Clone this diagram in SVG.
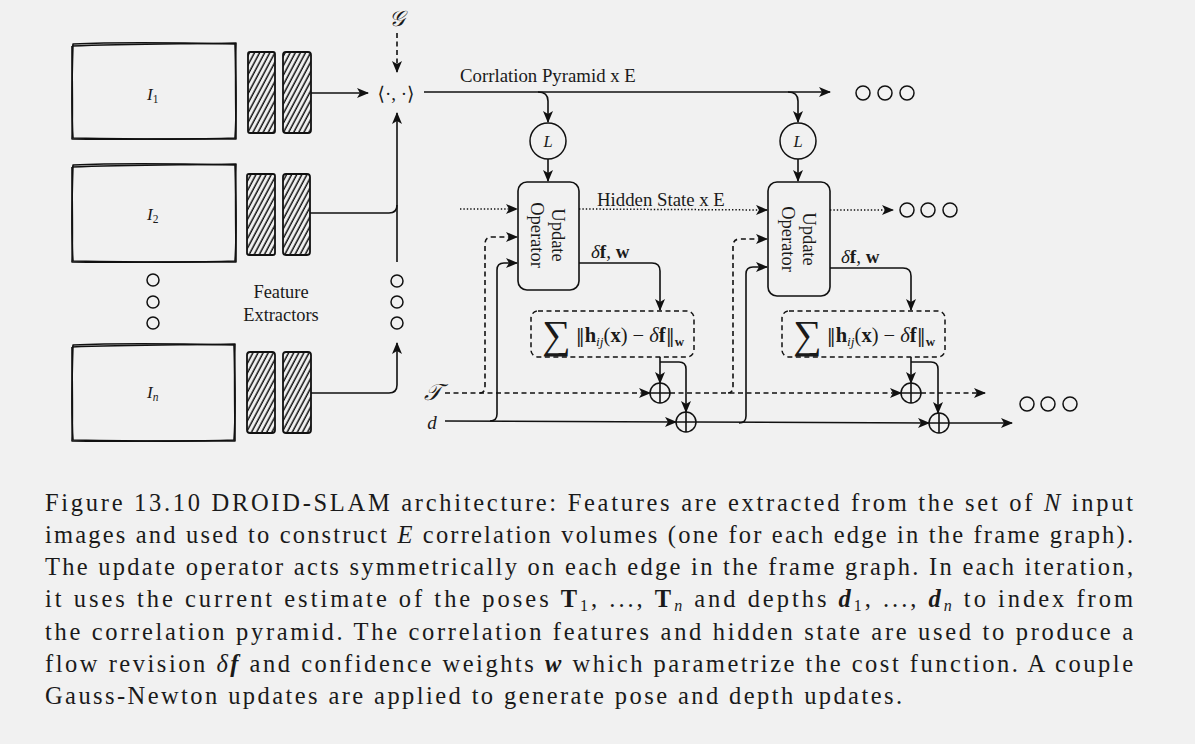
<svg xmlns="http://www.w3.org/2000/svg" width="1195" height="744" viewBox="0 0 1195 744">
<style>
  text { font-family: "Liberation Serif", "DejaVu Serif", serif; fill: #1a1a1a; }
  .ln { fill: none; stroke: #111; stroke-width: 1.6; }
  .dash { stroke-dasharray: 5 3.5; }
  .dot { stroke-dasharray: 1.4 2; stroke-width: 1.5; }
  .sk { fill: none; stroke: #111; stroke-width: 1.6; stroke-linejoin: round; }
  .bar { fill: url(#hatch); stroke: #111; stroke-width: 1.8; }
  .ring { fill: none; stroke: #111; stroke-width: 1.5; }
  .box { fill: #f1f1f1; stroke: #111; stroke-width: 1.6; }
  .dbox { fill: #f1f1f1; stroke: #111; stroke-width: 1.5; stroke-dasharray: 5 3.5; }
  .lbl { font-size: 18.8px; }
  .cap { font-size: 24.5px; }
  .it { font-style: italic; }
  .bf { font-weight: bold; }
  .nm { font-family: "DejaVu Serif", "DejaVu Sans", serif; font-weight: normal; }
</style>
<defs>
  <pattern id="hatch" width="4.5" height="4.5" patternUnits="userSpaceOnUse" patternTransform="rotate(28)">
    <line x1="2" y1="0" x2="2" y2="4.5" stroke="#111" stroke-width="1.5"/>
  </pattern>
  <marker id="ah" viewBox="0 0 12 10" refX="11" refY="5" markerWidth="12" markerHeight="10" markerUnits="userSpaceOnUse" orient="auto">
    <path d="M0,0 L12,5 L0,10 L3,5 Z" fill="#111" stroke="none"/>
  </marker>
</defs>
<rect x="0" y="0" width="1195" height="744" fill="#f1f1f1"/>

<!-- image frames -->
<g id="img1">
  <path class="sk" d="M73,44 C120,42 190,43 235,44 C236,75 237,110 235,138 C190,140 120,139 73,138 C71,110 72,75 73,44 Z"/>
  <path class="sk" stroke-width="1" d="M72,46 C125,44 185,44 236,43 C235,80 236,112 236,139 C185,138 125,140 72,139 C73,112 72,80 72,46"/>
  <text x="147" y="100" class="it" font-size="17">I<tspan font-size="11.5" dy="3" font-style="normal">1</tspan></text>
</g>
<g id="img2">
  <path class="sk" d="M73,165 C120,163 190,164 235,165 C236,195 237,232 235,261 C190,263 120,262 73,261 C71,232 72,195 73,165 Z"/>
  <path class="sk" stroke-width="1" d="M72,167 C125,165 185,165 236,164 C235,200 236,235 236,262 C185,261 125,263 72,262 C73,235 72,200 72,167"/>
  <text x="147" y="220" class="it" font-size="17">I<tspan font-size="11.5" dy="3" font-style="normal">2</tspan></text>
</g>
<g id="imgn">
  <path class="sk" d="M73,345 C120,343 190,344 234,345 C235,375 236,412 234,440 C190,442 120,441 73,440 C71,412 72,375 73,345 Z"/>
  <path class="sk" stroke-width="1" d="M72,347 C125,345 185,345 235,344 C234,380 235,415 235,441 C185,440 125,442 72,441 C73,415 72,380 72,347"/>
  <text x="147" y="398" class="it" font-size="17">I<tspan font-size="11.5" dy="3">n</tspan></text>
</g>
<g id="img-dots">
  <circle class="ring" cx="153" cy="280" r="6"/>
  <circle class="ring" cx="153" cy="302" r="6"/>
  <circle class="ring" cx="153" cy="323" r="6"/>
</g>

<!-- feature extractors -->
<g id="fe1">
  <rect class="bar" x="248" y="52" width="27" height="81" rx="2"/>
  <rect class="bar" x="283" y="52" width="28" height="81" rx="3"/>
</g>
<g id="fe2">
  <rect class="bar" x="247" y="174" width="28" height="81" rx="2"/>
  <rect class="bar" x="283" y="174" width="27" height="81" rx="3"/>
</g>
<g id="fen">
  <rect class="bar" x="247" y="352" width="28" height="81" rx="3"/>
  <rect class="bar" x="283" y="352" width="28" height="81" rx="3"/>
</g>
<g id="fe-label">
  <text x="281" y="298" text-anchor="middle" font-size="18.4">Feature</text>
  <text x="281" y="321" text-anchor="middle" font-size="18.4">Extractors</text>
</g>

<!-- correlation -->
<g id="graph-G">
  <text x="397" y="26" text-anchor="middle" class="it" font-size="22">𝒢</text>
</g>
<g id="corr">
  <text x="396" y="100" text-anchor="middle" font-size="19"><tspan font-family="DejaVu Serif">⟨</tspan>·, ·<tspan font-family="DejaVu Serif">⟩</tspan></text>
</g>
<g id="feat-dots">
  <circle class="ring" cx="397" cy="281" r="6"/>
  <circle class="ring" cx="397" cy="302" r="6"/>
  <circle class="ring" cx="397" cy="323" r="6"/>
</g>

<!-- lookups -->
<g id="L1">
  <circle class="ring" cx="548" cy="141" r="18"/>
  <text x="548" y="147" text-anchor="middle" class="it" font-size="16.5">L</text>
</g>
<g id="L2">
  <circle class="ring" cx="798" cy="141" r="18"/>
  <text x="798" y="147" text-anchor="middle" class="it" font-size="16.5">L</text>
</g>

<!-- update operators -->
<g id="upd1">
  <rect class="box" x="518" y="182" width="61" height="108" rx="9"/>
  <g transform="translate(548,235) rotate(90)">
    <text x="0" y="-4" text-anchor="middle" font-size="18.5">Update</text>
    <text x="0" y="17" text-anchor="middle" font-size="18.5">Operator</text>
  </g>
</g>
<g id="upd2">
  <rect class="box" x="768" y="182" width="62" height="114" rx="9"/>
  <g transform="translate(799,239) rotate(90)">
    <text x="0" y="-4" text-anchor="middle" font-size="18.5">Update</text>
    <text x="0" y="17" text-anchor="middle" font-size="18.5">Operator</text>
  </g>
</g>

<!-- cost boxes -->
<g id="cost1">
  <rect class="dbox" x="531" y="311" width="163" height="46" rx="7"/>
  <text x="613" y="342" text-anchor="middle" font-size="20.5"><tspan font-size="40" dy="6">∑</tspan><tspan dy="-6"> </tspan><tspan class="nm" font-size="18">‖</tspan><tspan class="bf">h</tspan><tspan class="it" font-size="13.5" dy="4">ij</tspan><tspan dy="-4">(</tspan><tspan class="bf">x</tspan>) − <tspan class="it">δ</tspan><tspan class="bf">f</tspan><tspan class="nm" font-size="18">‖</tspan><tspan class="bf" font-size="13" dy="4">w</tspan></text>
</g>
<g id="cost2">
  <rect class="dbox" x="782" y="311" width="163" height="46" rx="7"/>
  <text x="864" y="342" text-anchor="middle" font-size="20.5"><tspan font-size="40" dy="6">∑</tspan><tspan dy="-6"> </tspan><tspan class="nm" font-size="18">‖</tspan><tspan class="bf">h</tspan><tspan class="it" font-size="13.5" dy="4">ij</tspan><tspan dy="-4">(</tspan><tspan class="bf">x</tspan>) − <tspan class="it">δ</tspan><tspan class="bf">f</tspan><tspan class="nm" font-size="18">‖</tspan><tspan class="bf" font-size="13" dy="4">w</tspan></text>
</g>

<!-- plus nodes -->
<g id="plusT1"><circle class="ring" cx="660" cy="393" r="10"/><path class="ln" stroke-width="1.3" d="M650,393 H670 M660,383 V403"/></g>
<g id="plusD1"><circle class="ring" cx="686" cy="422" r="10"/><path class="ln" stroke-width="1.3" d="M676,422 H696 M686,412 V432"/></g>
<g id="plusT2"><circle class="ring" cx="911" cy="393" r="10"/><path class="ln" stroke-width="1.3" d="M901,393 H921 M911,383 V403"/></g>
<g id="plusD2"><circle class="ring" cx="939" cy="423" r="10"/><path class="ln" stroke-width="1.3" d="M929,423 H949 M939,413 V433"/></g>

<!-- inputs -->
<g id="in-T"><text x="433" y="400" text-anchor="middle" class="it" font-size="23">𝒯</text></g>
<g id="in-d"><text x="432" y="429" text-anchor="middle" class="it" font-size="19">d</text></g>

<!-- continuation dots -->
<g id="more-corr">
  <circle class="ring" cx="863" cy="93" r="7"/><circle class="ring" cx="885" cy="93" r="7"/><circle class="ring" cx="907" cy="93" r="7"/>
</g>
<g id="more-hidden">
  <circle class="ring" cx="907" cy="210" r="7"/><circle class="ring" cx="928" cy="210" r="7"/><circle class="ring" cx="950" cy="210" r="7"/>
</g>
<g id="more-out">
  <circle class="ring" cx="1027" cy="404" r="7"/><circle class="ring" cx="1048" cy="404" r="7"/><circle class="ring" cx="1070" cy="404" r="7"/>
</g>

<!-- connectors -->
<g id="connectors">
  <path class="ln" d="M311,93 L368,93" marker-end="url(#ah)"/>
  <path class="ln dash" d="M397,33 L397,72" marker-end="url(#ah)"/>
  <path class="ln" d="M397,262 L397,113" marker-end="url(#ah)"/>
  <path class="ln" d="M310,213 L389,213 Q397,213 397,205"/>
  <path class="ln" d="M311,393 L389,393 Q397,393 397,385 L397,343" marker-end="url(#ah)"/>

  <path class="ln" d="M424,92 L830,92" marker-end="url(#ah)"/>
  <path class="ln" d="M538,92 Q548,92 548,101 L548,122" marker-end="url(#ah)"/>
  <path class="ln" d="M548,159 L548,181" marker-end="url(#ah)"/>
  <path class="ln" d="M788,92 Q798,92 798,101 L798,122" marker-end="url(#ah)"/>
  <path class="ln" d="M798,159 L798,181" marker-end="url(#ah)"/>

  <path class="ln dot" d="M460,209 L517,209" marker-end="url(#ah)"/>
  <path class="ln dot" d="M579,209 L767,210" marker-end="url(#ah)"/>
  <path class="ln dot" d="M830,210 L893,210" marker-end="url(#ah)"/>

  <path class="ln dash" d="M480,393 Q485,393 485,386 L485,244 Q485,237 492,237 L517,237" marker-end="url(#ah)"/>
  <path class="ln" d="M490,421 Q497,421 497,414 L497,270 Q497,263 504,263 L517,263" marker-end="url(#ah)"/>
  <path class="ln dash" d="M728,393 Q733,393 733,386 L733,246 Q733,239 740,239 L767,239" marker-end="url(#ah)"/>
  <path class="ln" d="M739,423 Q746,423 746,416 L746,274 Q746,267 753,267 L767,267" marker-end="url(#ah)"/>

  <path class="ln" d="M579,263 L652,263 Q660,263 660,271 L660,310" marker-end="url(#ah)"/>
  <path class="ln" d="M830,268 L903,268 Q911,268 911,276 L911,310" marker-end="url(#ah)"/>

  <path class="ln" d="M660,357 L660,383" marker-end="url(#ah)"/>
  <path class="ln" d="M660,362 L679,362 Q686,362 686,369 L686,412" marker-end="url(#ah)"/>
  <path class="ln" d="M911,357 L911,383" marker-end="url(#ah)"/>
  <path class="ln" d="M911,362 L931,362 Q938,362 938,369 L938,413" marker-end="url(#ah)"/>

  <path class="ln dash" d="M445,393 L650,393" marker-end="url(#ah)"/>
  <path class="ln dash" d="M670,393 L901,393" marker-end="url(#ah)"/>
  <path class="ln dash" d="M921,393 L985,393" marker-end="url(#ah)"/>

  <path class="ln" d="M445,421 L676,422" marker-end="url(#ah)"/>
  <path class="ln" d="M696,422 L929,423" marker-end="url(#ah)"/>
  <path class="ln" d="M949,423 L1012,423" marker-end="url(#ah)"/>
</g>

<!-- connector labels -->
<g id="labels">
  <text x="460" y="82" class="lbl">Corrlation Pyramid x E</text>
  <text x="597" y="206" class="lbl">Hidden State x E</text>
  <text x="591" y="258" font-size="19"><tspan class="it">δ</tspan><tspan class="bf">f</tspan>, <tspan class="bf">w</tspan></text>
  <text x="841" y="263" font-size="19"><tspan class="it">δ</tspan><tspan class="bf">f</tspan>, <tspan class="bf">w</tspan></text>
</g>

<!-- caption -->
<g id="caption" class="cap">
  <text x="45" y="511" textLength="1088" lengthAdjust="spacing">Figure 13.10  DROID-SLAM architecture: Features are extracted from the set of <tspan class="it">N</tspan> input</text>
  <text x="45" y="543" textLength="1088" lengthAdjust="spacing">images and used to construct <tspan class="it">E</tspan> correlation volumes (one for each edge in the frame graph).</text>
  <text x="45" y="575" textLength="1088" lengthAdjust="spacing">The update operator acts symmetrically on each edge in the frame graph. In each iteration,</text>
  <text x="45" y="607" textLength="1088" lengthAdjust="spacing">it uses the current estimate of the poses <tspan class="bf">T</tspan><tspan font-size="16" dy="4">1</tspan><tspan dy="-4">, ..., </tspan><tspan class="bf">T</tspan><tspan font-size="16" class="it" dy="4">n</tspan><tspan dy="-4"> and depths </tspan><tspan class="bf it">d</tspan><tspan font-size="16" dy="4">1</tspan><tspan dy="-4">, ..., </tspan><tspan class="bf it">d</tspan><tspan font-size="16" class="it" dy="4">n</tspan><tspan dy="-4"> to index from</tspan></text>
  <text x="45" y="640" textLength="1088" lengthAdjust="spacing">the correlation pyramid. The correlation features and hidden state are used to produce a</text>
  <text x="45" y="672" textLength="1088" lengthAdjust="spacing">flow revision <tspan class="it">δ</tspan><tspan class="bf it">f</tspan> and confidence weights <tspan class="bf it">w</tspan> which parametrize the cost function. A couple</text>
  <text x="45" y="704" textLength="857" lengthAdjust="spacing">Gauss-Newton updates are applied to generate pose and depth updates.</text>
</g>
</svg>
